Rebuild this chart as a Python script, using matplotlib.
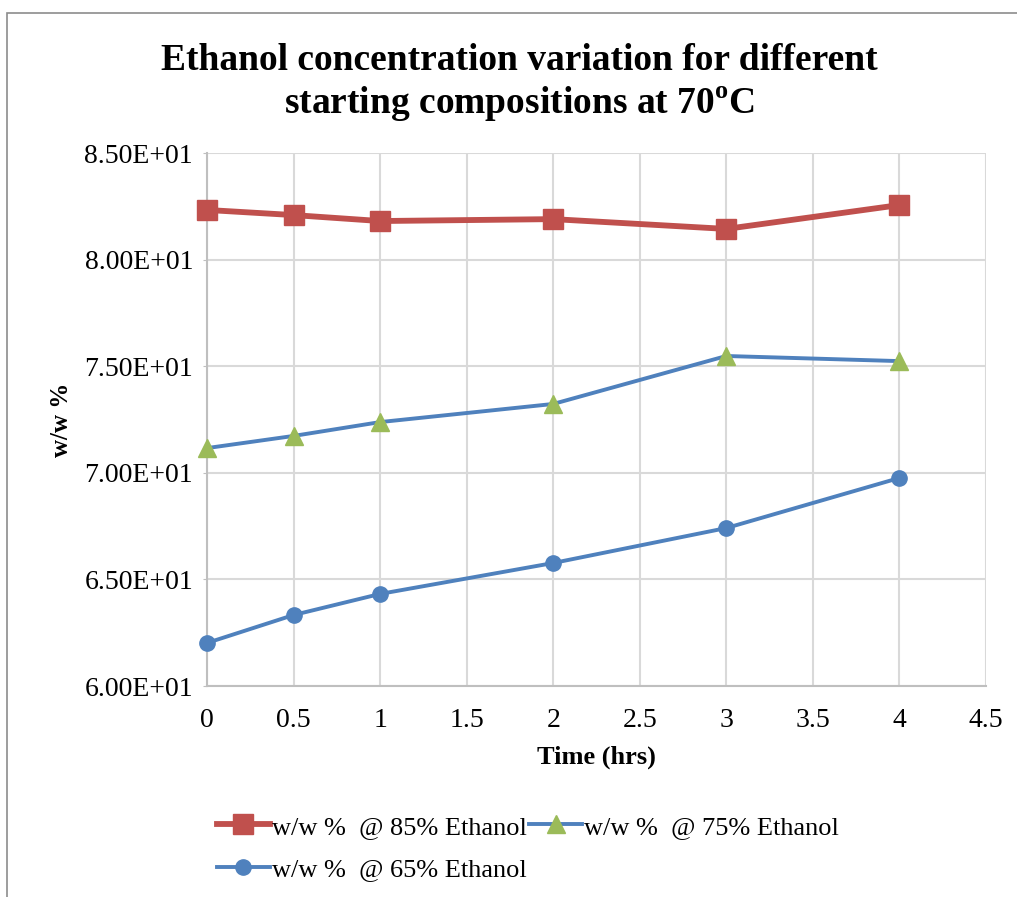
import matplotlib.pyplot as plt
from matplotlib.patches import Rectangle
from matplotlib.ticker import FuncFormatter, MultipleLocator

plt.rcParams['font.family'] = ['Liberation Serif', 'DejaVu Serif']
plt.rcParams['mathtext.fontset'] = 'custom'
plt.rcParams['mathtext.rm'] = 'Liberation Serif:bold'

time_hrs = [0, 0.5, 1, 2, 3, 4]
ww_85 = [82.33, 82.09, 81.81, 81.90, 81.44, 82.56]
ww_75 = [71.16, 71.73, 72.38, 73.23, 75.48, 75.24]
ww_65 = [62.02, 63.33, 64.32, 65.77, 67.41, 69.76]

RED = "#C0504D"
GREEN = "#9BBB59"
BLUE = "#4F81BD"
GRID = "#D9D9D9"

fig = plt.figure(figsize=(10.17, 8.97), dpi=100)
ax = fig.add_axes([0.2035, 0.2352, 0.7660, 0.5942])

# outer chart frame (partly cropped in the source)
fig.patches.append(Rectangle((7 / 1017, -0.05), 1.1, (897 - 13) / 897 + 0.05,
                             transform=fig.transFigure, fill=False,
                             edgecolor="#8C8C8C", lw=1.2))

l85, = ax.plot(time_hrs, ww_85, color=RED, lw=4.2, marker="s", ms=14,
               mfc=RED, mec=RED, clip_on=False, zorder=4,
               label="w/w %  @ 85% Ethanol")
l75, = ax.plot(time_hrs, ww_75, color=BLUE, lw=2.8, marker="^", ms=13,
               mfc=GREEN, mec=GREEN, clip_on=False, zorder=4,
               label="w/w %  @ 75% Ethanol")
l65, = ax.plot(time_hrs, ww_65, color=BLUE, lw=2.8, marker="o", ms=11,
               mfc=BLUE, mec=BLUE, clip_on=False, zorder=4,
               label="w/w %  @ 65% Ethanol")

ax.set_xlim(0, 4.5)
ax.set_ylim(60, 85)
ax.xaxis.set_major_locator(MultipleLocator(0.5))
ax.yaxis.set_major_locator(MultipleLocator(5))
ax.xaxis.set_major_formatter(FuncFormatter(lambda v, p: f"{v:g}"))
ax.yaxis.set_major_formatter(FuncFormatter(lambda v, p: f"{v / 10:.2f}E+01"))
ax.grid(True, color=GRID, lw=1.5)
ax.set_axisbelow(True)
for s in ["top", "right"]:
    ax.spines[s].set_visible(False)
for s in ["left", "bottom"]:
    ax.spines[s].set_color("#BFBFBF")
    ax.spines[s].set_linewidth(1.5)
ax.tick_params(axis="both", labelsize=20, length=0)
ax.tick_params(axis="x", pad=16)
ax.tick_params(axis="y", length=3, color="#BFBFBF", pad=7)

ax.set_xlabel("Time (hrs)", fontsize=19, fontweight="bold", labelpad=9)
ax.set_ylabel("w/w %", fontsize=18, fontweight="bold", labelpad=8)

fig.text(0.511, 0.932, "Ethanol concentration variation for different",
         ha="center", va="center", fontsize=27, fontweight="bold")
fig.text(0.511, 0.884, r"starting compositions at 70$^\mathregular{o}$C",
         ha="center", va="center", fontsize=27, fontweight="bold")

leg = fig.legend([l85, l65, l75],
                 [l85.get_label(), l65.get_label(), l75.get_label()],
                 ncol=2, loc="upper left", bbox_to_anchor=(0.203, 0.103),
                 frameon=False, fontsize=19, handlelength=2.0,
                 handletextpad=0.08, columnspacing=0.1, labelspacing=0.72,
                 borderaxespad=0)

fig.savefig("out.png", dpi=100)
